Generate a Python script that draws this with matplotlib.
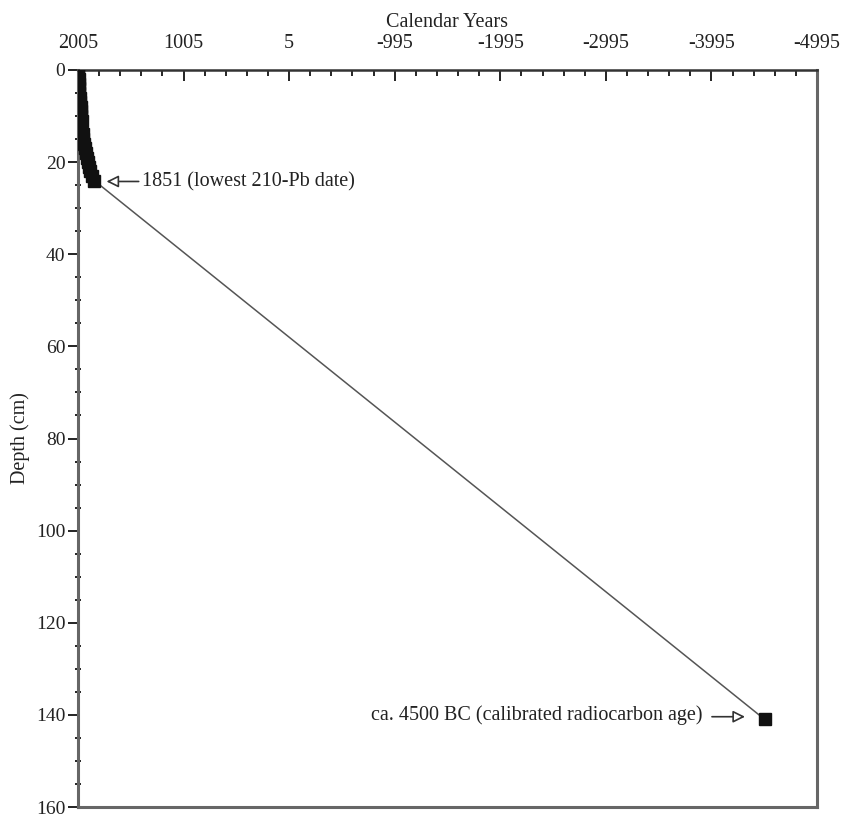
import matplotlib
matplotlib.use("Agg")
import matplotlib.pyplot as plt
import numpy as np
from matplotlib.ticker import MultipleLocator, FixedLocator

plt.rcParams['font.family'] = ['Liberation Serif', 'DejaVu Serif']

# 210-Pb dated depths (cm) and calendar years
pb_depth = [0, 1, 2, 3, 4, 5, 6, 7, 8, 9, 10, 11,
            14, 15, 16, 17, 18, 19, 20, 21, 22, 23, 24]
pb_year = [2005, 2003, 2000, 1997, 1994, 1991, 1988, 1985, 1981, 1977, 1973, 1969,
           1958, 1953, 1947, 1940, 1933, 1924, 1914, 1902, 1888, 1871, 1851]
# radiocarbon date
c14_depth = [141]
c14_year = [-4500]

x_major = [2005, 1005, 5, -995, -1995, -2995, -3995, -4995]
x_labels = ["2005", "1005", "5", "-995", "-1995", "-2995", "-3995", "-4995"]

FS = 14.5

fig = plt.figure(figsize=(8.43, 8.19), dpi=100)
ax = fig.add_axes([78/843, 1-807/819, (817-78)/843, (807-70)/819])

line_x = pb_year + c14_year
line_y = pb_depth + c14_depth
ax.plot(line_x, line_y, color='#555555', lw=1.1, zorder=2)
ax.plot(pb_year, pb_depth, 's', color='#111111', ms=8.5, zorder=3)
ax.plot(c14_year, c14_depth, 's', color='#111111', ms=8.5, zorder=3)

ax.set_xlim(2005, -4995)
ax.set_ylim(160, 0)

ax.xaxis.set_ticks_position('top')
ax.xaxis.set_label_position('top')
ax.xaxis.set_major_locator(FixedLocator(x_major))
ax.set_xticklabels(x_labels)
ax.xaxis.set_minor_locator(FixedLocator(np.arange(2005, -4996, -200)))
ax.tick_params(axis='x', which='major', direction='in', length=8, width=1.4,
               labelsize=FS, pad=12, colors='#222222')
ax.tick_params(axis='x', which='minor', direction='in', length=4, width=1.2)

ax.yaxis.set_major_locator(MultipleLocator(20))
ax.yaxis.set_minor_locator(MultipleLocator(5))
ax.tick_params(axis='y', which='major', direction='out', length=7, width=1.4,
               labelsize=14, pad=2, colors='#222222')
ax.tick_params(axis='y', which='minor', direction='inout', length=5, width=1.2)

for s in ['left', 'right', 'bottom']:
    ax.spines[s].set_color('#666666')
    ax.spines[s].set_linewidth(2.2)
ax.spines['top'].set_color('#333333')
ax.spines['top'].set_linewidth(1.8)

ax.set_xlabel('Calendar Years', fontsize=FS, labelpad=5, color='#222222')
ax.set_ylabel('Depth (cm)', fontsize=FS, labelpad=4, color='#222222')

arrow = dict(arrowstyle='-|>', color='#333333', lw=1.2, fc='white',
             mutation_scale=18, shrinkA=0, shrinkB=0)
ax.annotate('', xy=(1735, 24.2), xytext=(1430, 24.2), arrowprops=arrow)
ax.text(1400, 24.2, '1851 (lowest 210-Pb date)', fontsize=FS, va='center',
        ha='left', color='#222222')
ax.annotate('', xy=(-4313, 140.4), xytext=(-4000, 140.4), arrowprops=arrow)
ax.text(-3915, 140.0, 'ca. 4500 BC (calibrated radiocarbon age)', fontsize=FS,
        va='center', ha='right', color='#222222')

fig.savefig('out.png', dpi=100)
